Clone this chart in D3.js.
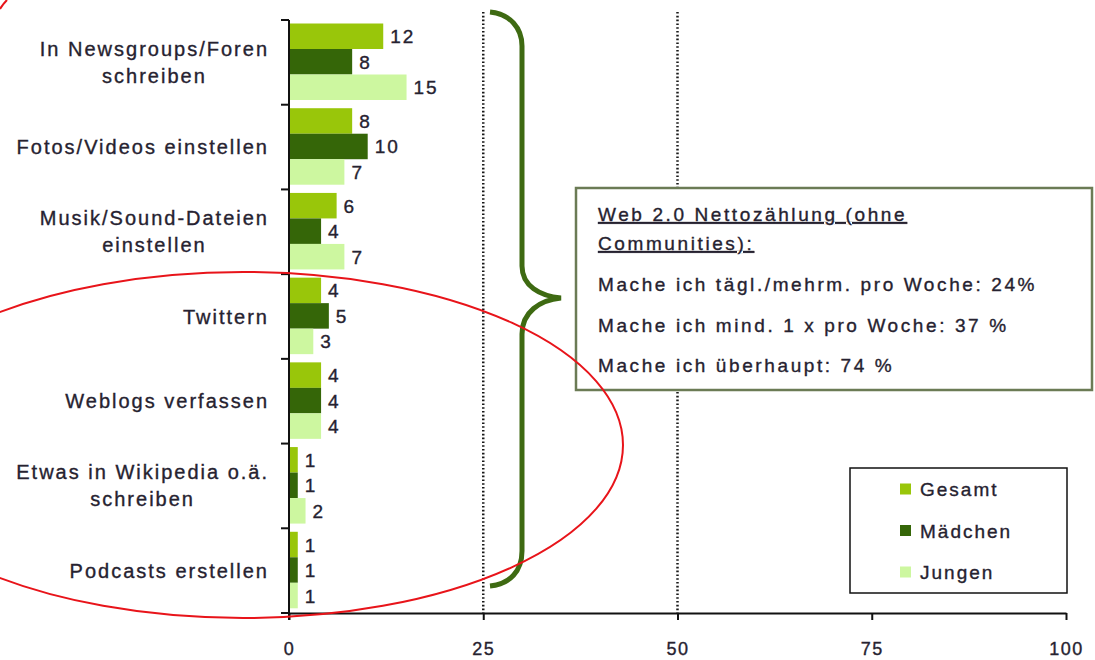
<!DOCTYPE html>
<html>
<head>
<meta charset="utf-8">
<script src="https://cdn.jsdelivr.net/npm/d3@7"></script>
<style>
  body { margin: 0; background: #fff; }
  svg { display: block; font-family: "Liberation Sans", Arial, sans-serif; }
  text { stroke: #262230; stroke-width: 0.35px; }
</style>
</head>
<body>
<svg id="chart" width="1095" height="660"></svg>
<script>
// chart data
var categories = [
  'In Newsgroups/Foren\nschreiben',
  'Fotos/Videos einstellen',
  'Musik/Sound-Dateien\neinstellen',
  'Twittern',
  'Weblogs verfassen',
  'Etwas in Wikipedia o.ä.\nschreiben',
  'Podcasts erstellen'
];
var seriesNames = ['Gesamt', 'Mädchen', 'Jungen'];
var gesamt = [12, 8, 6, 4, 4, 1, 1];
var maedchen = [8, 10, 4, 5, 4, 1, 1];
var jungen = [15, 7, 7, 3, 4, 2, 1];
var xTicks = [0, 25, 50, 75, 100];
var gridTicks = [25, 50];
var boxTitle = ['Web 2.0 Nettozählung (ohne', 'Communities):'];
var boxLines = [
  'Mache ich tägl./mehrm. pro Woche: 24%',
  'Mache ich mind. 1 x pro Woche: 37 %',
  'Mache ich überhaupt: 74 %'
];

var colors = { 'Gesamt': '#99c60a', 'Mädchen': '#356608', 'Jungen': '#cdf7a0' };
var textColor = '#262230';

var svg = d3.select('#chart');

var x = d3.scaleLinear().domain([0, 100]).range([289, 1066]);
var y = d3.scaleBand().domain(categories).range([20, 613]);
var ySub = d3.scaleBand().domain(seriesNames).range([3.5, 80]);

var rows = categories.map(function(c, i) {
  return { cat: c, values: [gesamt[i], maedchen[i], jungen[i]] };
});

// dotted grid
svg.selectAll('line.grid').data(gridTicks).enter().append('line')
  .attr('class', 'grid')
  .attr('x1', d => x(d)).attr('x2', d => x(d))
  .attr('y1', 12).attr('y2', 613)
  .attr('stroke', '#1a1a1a').attr('stroke-width', 2.5)
  .attr('stroke-dasharray', '1.6,2.2');

// bars
var groups = svg.selectAll('g.cat').data(rows).enter().append('g')
  .attr('class', 'cat')
  .attr('transform', d => 'translate(0,' + y(d.cat) + ')');

groups.selectAll('rect').data(d => d.values.map((v, j) => ({ s: seriesNames[j], v: v })))
  .enter().append('rect')
  .attr('x', x(0) + 1)
  .attr('y', d => ySub(d.s))
  .attr('width', d => x(d.v) - x(0))
  .attr('height', ySub.bandwidth())
  .attr('fill', d => colors[d.s]);

groups.selectAll('text.val').data(d => d.values.map((v, j) => ({ s: seriesNames[j], v: v })))
  .enter().append('text')
  .attr('class', 'val')
  .attr('x', d => x(d.v) + 8)
  .attr('y', d => ySub(d.s) + ySub.bandwidth() / 2 + 7)
  .attr('font-size', 19)
  .attr('letter-spacing', 2)
  .attr('fill', textColor)
  .text(d => d.v);

// category labels
var labels = svg.selectAll('g.lab').data(categories).enter().append('g').attr('class', 'lab');
labels.each(function(c) {
  var g = d3.select(this);
  var lines = c.split('\n');
  var center = y(c) + y.bandwidth() / 2;
  var texts = lines.map(function(l, i) {
    return g.append('text')
      .attr('y', center + 7 + (i - (lines.length - 1) / 2) * 27)
      .attr('font-size', 20)
      .attr('letter-spacing', 2)
      .attr('text-anchor', 'middle')
      .attr('fill', textColor)
      .text(l);
  });
  var maxW = d3.max(texts, t => t.node().getComputedTextLength());
  texts.forEach(t => t.attr('x', 269 - maxW / 2));
});

// y axis line with category ticks
svg.append('line')
  .attr('x1', x(0)).attr('x2', x(0)).attr('y1', 20).attr('y2', 620)
  .attr('stroke', '#111').attr('stroke-width', 2);
var bounds = categories.map(c => y(c)).concat([y.range()[1]]);
svg.selectAll('line.ytick').data(bounds).enter().append('line')
  .attr('class', 'ytick')
  .attr('x1', x(0) - 8).attr('x2', x(0))
  .attr('y1', d => d).attr('y2', d => d)
  .attr('stroke', '#111').attr('stroke-width', 2);

// x axis
var xAxis = svg.append('g')
  .attr('transform', 'translate(0,613)')
  .call(d3.axisBottom(x).tickValues(xTicks).tickSize(7).tickPadding(22).tickSizeOuter(0));
xAxis.select('.domain').attr('stroke', '#111').attr('stroke-width', 2);
xAxis.selectAll('.tick line').attr('stroke', '#111').attr('stroke-width', 2);
xAxis.selectAll('.tick text')
  .attr('font-family', '"Liberation Sans", Arial, sans-serif')
  .attr('font-size', 18).attr('letter-spacing', 1.5)
  .attr('fill', textColor);

// curly brace
svg.append('path')
  .attr('d', 'M490,12 C510,14 522,28 522,46 L522,266 C522,286 540,296 561,298 C540,300 522,312 522,334 L522,551 C522,571 510,584 490,586')
  .attr('fill', 'none')
  .attr('stroke', '#3e6a12')
  .attr('stroke-width', 5);

// text box
svg.append('rect')
  .attr('x', 576).attr('y', 188).attr('width', 516).attr('height', 202)
  .attr('fill', '#fff').attr('stroke', '#6b7b55').attr('stroke-width', 2.5);

boxTitle.forEach(function(t, i) {
  svg.append('text')
    .attr('x', 598).attr('y', 221 + i * 29)
    .attr('font-size', 19).attr('letter-spacing', 2.6)
    .attr('fill', textColor)
    .attr('text-decoration', 'underline')
    .text(t);
});
boxLines.forEach(function(t, i) {
  svg.append('text')
    .attr('x', 598).attr('y', 291 + i * 40.5)
    .attr('font-size', 19).attr('letter-spacing', 2.6)
    .attr('fill', textColor)
    .text(t);
});

// legend
svg.append('rect')
  .attr('x', 850).attr('y', 468).attr('width', 217).attr('height', 125)
  .attr('fill', '#fff').attr('stroke', '#111').attr('stroke-width', 1.5);
var leg = svg.selectAll('g.leg').data(seriesNames).enter().append('g')
  .attr('class', 'leg')
  .attr('transform', (d, i) => 'translate(900,' + (489 + i * 41.5) + ')');
leg.append('rect')
  .attr('x', 0).attr('y', -5.5).attr('width', 11).attr('height', 11)
  .attr('fill', d => colors[d]);
leg.append('text')
  .attr('x', 20).attr('y', 7)
  .attr('font-size', 19).attr('letter-spacing', 2)
  .attr('fill', textColor)
  .text(d => d);

// red annotation marks
svg.append('ellipse')
  .attr('cx', 243).attr('cy', 445).attr('rx', 380).attr('ry', 173)
  .attr('fill', 'none').attr('stroke', '#e8141a').attr('stroke-width', 2);
svg.append('path')
  .attr('d', 'M0,9 Q3,4 7,0')
  .attr('fill', 'none').attr('stroke', '#e8141a').attr('stroke-width', 2);
</script>
</body>
</html>
